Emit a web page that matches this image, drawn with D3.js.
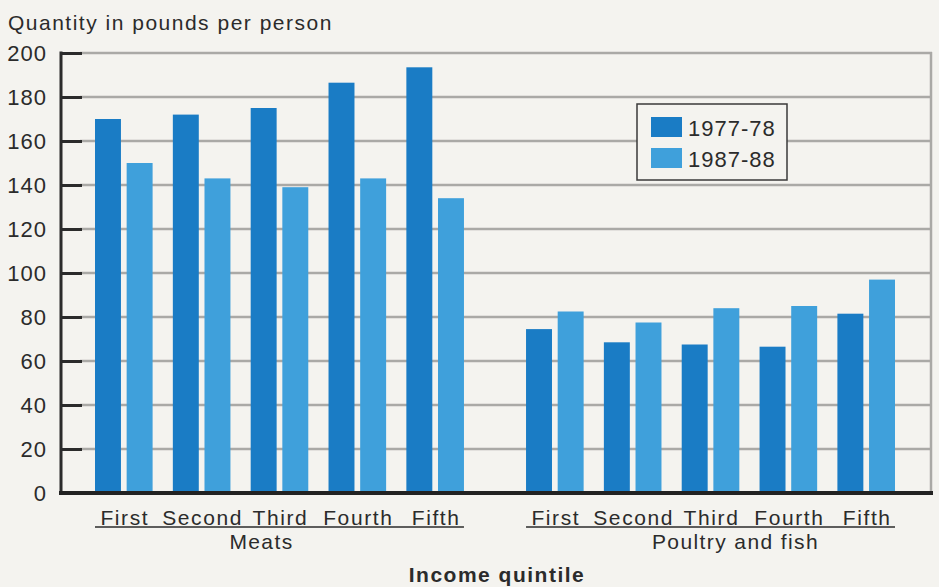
<!DOCTYPE html>
<html>
<head>
<meta charset="utf-8">
<script src="https://cdn.jsdelivr.net/npm/d3@7"></script>
<style>
  body { margin: 0; background: #f4f3ef; }
  svg { display: block; font-family: "Liberation Sans", Arial, sans-serif; }
</style>
</head>
<body>
<div id="chart"></div>
<script>
var sections = ['Meats', 'Poultry and fish'];
var quintiles = ['First', 'Second', 'Third', 'Fourth', 'Fifth'];
var series = ['1977-78', '1987-88'];
var meats7778 = [170, 172, 175, 186.5, 193.5];
var meats8788 = [150, 143, 139, 143, 134];
var poultry7778 = [74.5, 68.5, 67.5, 66.5, 81.5];
var poultry8788 = [82.5, 77.5, 84, 85, 97];
var yTicks = [0, 20, 40, 60, 80, 100, 120, 140, 160, 180, 200];

var width = 939,
  height = 587;

var values = {
  'Meats': [meats7778, meats8788],
  'Poultry and fish': [poultry7778, poultry8788]
};

var color = d3.scaleOrdinal()
  .domain(series)
  .range(['#1a7cc5', '#3fa0db']);

var y = d3.scaleLinear()
  .domain([0, 200])
  .range([493, 53]);

var outer = d3.scaleBand()
  .domain(sections)
  .range([95, 895])
  .paddingInner(0.144);

var inner = d3.scaleBand()
  .domain(quintiles)
  .range([0, outer.bandwidth()])
  .paddingInner(0.26);

var sub = d3.scaleBand()
  .domain(series)
  .range([0, inner.bandwidth()])
  .paddingInner(0.18);

var svg = d3.select('#chart')
  .append('svg')
  .attr('width', width)
  .attr('height', height);

svg.append('rect')
  .attr('width', width)
  .attr('height', height)
  .attr('fill', '#f4f3ef');

// grid lines
svg.append('g')
  .selectAll('line')
  .data(yTicks.filter(function (d) { return d > 0; }))
  .enter()
  .append('line')
  .attr('x1', 80)
  .attr('x2', 932)
  .attr('y1', function (d) { return y(d); })
  .attr('y2', function (d) { return y(d); })
  .attr('stroke', '#aaa9a6')
  .attr('stroke-width', 2.5);

svg.append('line')
  .attr('x1', 931)
  .attr('x2', 931)
  .attr('y1', y(200) - 1)
  .attr('y2', y(0))
  .attr('stroke', '#aaa9a6')
  .attr('stroke-width', 2.5);

// y axis
var yAxis = d3.axisLeft(y)
  .tickValues(yTicks)
  .tickSize(0)
  .tickPadding(14);

var gy = svg.append('g')
  .attr('transform', 'translate(61,0)')
  .call(yAxis);
gy.select('.domain').remove();
gy.selectAll('text')
  .attr('font-size', 22)
  .attr('letter-spacing', 1)
  .attr('fill', '#2b2b2b')
  .attr('font-family', '"Liberation Sans", Arial, sans-serif');
gy.selectAll('.tick')
  .append('line')
  .attr('x1', 0)
  .attr('x2', 21)
  .attr('stroke', '#2b2b2b')
  .attr('stroke-width', 3);

svg.append('line')
  .attr('x1', 61)
  .attr('x2', 61)
  .attr('y1', y(200) - 1.5)
  .attr('y2', y(0))
  .attr('stroke', '#2b2b2b')
  .attr('stroke-width', 3);

// bars
var groups = svg.append('g')
  .selectAll('g')
  .data(sections)
  .enter()
  .append('g')
  .attr('transform', function (d) { return 'translate(' + outer(d) + ',0)'; });

groups.selectAll('rect')
  .data(function (s) {
    var out = [];
    quintiles.forEach(function (q, qi) {
      series.forEach(function (k, ki) {
        out.push({ q: q, k: k, v: values[s][ki][qi] });
      });
    });
    return out;
  })
  .enter()
  .append('rect')
  .attr('x', function (d) { return inner(d.q) + sub(d.k); })
  .attr('width', sub.bandwidth())
  .attr('y', function (d) { return y(d.v); })
  .attr('height', function (d) { return y(0) - y(d.v); })
  .attr('fill', function (d) { return color(d.k); });

// quintile labels
groups.selectAll('text.q')
  .data(quintiles)
  .enter()
  .append('text')
  .attr('class', 'q')
  .attr('x', function (d) { return inner(d) + inner.bandwidth() / 2 + 1; })
  .attr('y', 525)
  .attr('text-anchor', 'middle')
  .attr('font-size', 21)
  .attr('letter-spacing', 1.6)
  .attr('fill', '#2b2b2b')
  .text(function (d) { return d; });

groups.append('line')
  .attr('x1', 0)
  .attr('x2', outer.bandwidth())
  .attr('y1', 527)
  .attr('y2', 527)
  .attr('stroke', '#2b2b2b')
  .attr('stroke-width', 1.5);

groups.append('text')
  .attr('x', function (d, i) { return outer.bandwidth() / 2 + (i === 0 ? -18 : 25); })
  .attr('y', 549)
  .attr('text-anchor', 'middle')
  .attr('font-size', 21)
  .attr('letter-spacing', 1.4)
  .attr('fill', '#2b2b2b')
  .text(function (d) { return d; });

// baseline
svg.append('line')
  .attr('x1', 59)
  .attr('x2', 933)
  .attr('y1', y(0))
  .attr('y2', y(0))
  .attr('stroke', '#222')
  .attr('stroke-width', 4);

// titles
svg.append('text')
  .attr('x', 8)
  .attr('y', 30)
  .attr('font-size', 21)
  .attr('letter-spacing', 1.5)
  .attr('fill', '#2b2b2b')
  .text('Quantity in pounds per person');

svg.append('text')
  .attr('x', 497)
  .attr('y', 582)
  .attr('text-anchor', 'middle')
  .attr('font-size', 21)
  .attr('letter-spacing', 1.5)
  .attr('font-weight', 'bold')
  .attr('fill', '#2b2b2b')
  .text('Income quintile');

// legend
var legend = svg.append('g')
  .attr('transform', 'translate(637,104)');

legend.append('rect')
  .attr('width', 150)
  .attr('height', 76)
  .attr('fill', '#f4f3ef')
  .attr('stroke', '#3a3a3a')
  .attr('stroke-width', 1.5);

var li = legend.selectAll('g')
  .data(series)
  .enter()
  .append('g')
  .attr('transform', function (d, i) { return 'translate(14,' + (13 + i * 31) + ')'; });

li.append('rect')
  .attr('width', 31)
  .attr('height', 20)
  .attr('fill', function (d) { return color(d); });

li.append('text')
  .attr('x', 37)
  .attr('y', 19)
  .attr('font-size', 22)
  .attr('letter-spacing', 1)
  .attr('fill', '#2b2b2b')
  .text(function (d) { return d; });
</script>
</body>
</html>
